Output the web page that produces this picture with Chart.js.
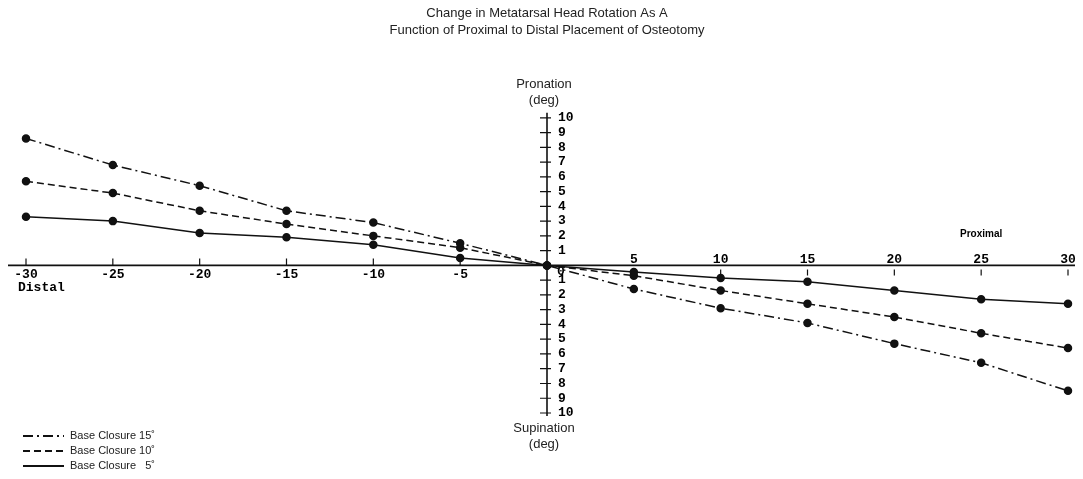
<!DOCTYPE html>
<html>
<head>
<meta charset="utf-8">
<script src="https://cdn.jsdelivr.net/npm/chart.js@4.4.0/dist/chart.umd.min.js"></script>
<style>
    html, body { margin: 0; padding: 0; background: #fff; }
    #wrap { width: 1083px; height: 479px; position: relative; }
</style>
</head>
<body>
<div id="wrap"><canvas id="rotationChart"></canvas></div>
<script>
// --- data ---
const placement = [-30, -25, -20, -15, -10, -5, 0, 5, 10, 15, 20, 25, 30];
const closure15 = [8.6, 6.8, 5.4, 3.7, 2.9, 1.5, 0, -1.6, -2.9, -3.9, -5.3, -6.6, -8.5];
const closure10 = [5.7, 4.9, 3.7, 2.8, 2.0, 1.2, 0, -0.7, -1.7, -2.6, -3.5, -4.6, -5.6];
const closure5  = [3.3, 3.0, 2.2, 1.9, 1.4, 0.5, 0, -0.45, -0.85, -1.1, -1.7, -2.3, -2.6];
const xTickValues = [-30, -25, -20, -15, -10, -5, 5, 10, 15, 20, 25, 30];
const yTickValues = [-10, -9, -8, -7, -6, -5, -4, -3, -2, -1, 1, 2, 3, 4, 5, 6, 7, 8, 9, 10];
const seriesNames = ['Base Closure 15˚', 'Base Closure 10˚', 'Base Closure   5˚'];

const INK = '#111';
const TXT = '#222';
const dashes = [[10, 4, 2, 4], [7, 4], []];

const toPoints = vals => placement.map((x, i) => ({ x: x, y: vals[i] }));

// crossed axes, ticks, labels and the hand-made legend
const crossAxes = {
    id: 'crossAxes',
    beforeDatasetsDraw(chart) {
        const { ctx, chartArea: a, scales: { x, y } } = chart;
        const ax = x.getPixelForValue(0);
        const ay = y.getPixelForValue(0);
        ctx.save();
        ctx.strokeStyle = INK;
        ctx.lineWidth = 1.6;
        ctx.beginPath();
        ctx.moveTo(a.left - 18, ay); ctx.lineTo(a.right + 7, ay);
        ctx.moveTo(ax, a.top - 5); ctx.lineTo(ax, a.bottom + 3);
        ctx.stroke();

        ctx.lineWidth = 1.2;
        ctx.beginPath();
        xTickValues.forEach(v => {
            const px = x.getPixelForValue(v);
            if (v < 0) { ctx.moveTo(px, ay - 7); ctx.lineTo(px, ay); }
            else { ctx.moveTo(px, ay + 4); ctx.lineTo(px, ay + 10); }
        });
        yTickValues.forEach(v => {
            const py = y.getPixelForValue(v);
            ctx.moveTo(ax - 7, py); ctx.lineTo(ax + 4, py);
        });
        ctx.stroke();

        ctx.fillStyle = '#000';
        ctx.font = 'bold 13px "Liberation Mono", "DejaVu Sans Mono", monospace';
        ctx.textAlign = 'center';
        ctx.textBaseline = 'middle';
        xTickValues.forEach(v => {
            const px = x.getPixelForValue(v);
            ctx.fillText(String(v), px, v < 0 ? ay + 9 : ay - 6);
        });
        ctx.textAlign = 'left';
        yTickValues.forEach(v => {
            ctx.fillText(String(Math.abs(v)), ax + 11, y.getPixelForValue(v));
        });
        ctx.fillText('0', ax + 10, ay + 6);
        ctx.fillText('Distal', x.getPixelForValue(-30) - 8, ay + 22);

        ctx.font = 'bold 10px "Liberation Sans", Arial, sans-serif';
        ctx.textAlign = 'center';
        ctx.fillText('Proximal', x.getPixelForValue(25), ay - 31);

        ctx.fillStyle = TXT;
        ctx.font = '13px "Liberation Sans", Arial, sans-serif';
        ctx.fillText('Pronation', ax - 3, a.top - 33);
        ctx.fillText('(deg)', ax - 3, a.top - 17);
        ctx.fillText('Supination', ax - 3, a.bottom + 15);
        ctx.fillText('(deg)', ax - 3, a.bottom + 31);

        // legend
        ctx.font = '11px "Liberation Sans", Arial, sans-serif';
        ctx.textAlign = 'left';
        seriesNames.forEach((name, i) => {
            const ly = 436 + i * 15;
            ctx.setLineDash(dashes[i]);
            ctx.lineWidth = 1.8;
            ctx.strokeStyle = INK;
            ctx.beginPath();
            ctx.moveTo(23, ly); ctx.lineTo(64, ly);
            ctx.stroke();
            ctx.fillText(name, 70, ly);
        });
        ctx.restore();
    }
};

const mkSet = (label, vals, dash) => ({
    label: label,
    data: toPoints(vals),
    showLine: true,
    borderColor: INK,
    backgroundColor: INK,
    borderWidth: 1.5,
    borderDash: dash,
    pointRadius: 3.5,
    pointBackgroundColor: INK,
    pointBorderColor: INK,
    tension: 0,
    clip: false
});

new Chart(document.getElementById('rotationChart'), {
    type: 'scatter',
    data: {
        datasets: [
            mkSet(seriesNames[0], closure15, dashes[0]),
            mkSet(seriesNames[1], closure10, dashes[1]),
            mkSet(seriesNames[2], closure5, dashes[2])
        ]
    },
    options: {
        responsive: true,
        maintainAspectRatio: false,
        animation: false,
        layout: { padding: { left: 26, right: 15, top: 0, bottom: 66 } },
        plugins: {
            legend: { display: false },
            tooltip: { enabled: false },
            title: {
                display: true,
                text: ['Change in Metatarsal Head Rotation As A', 'Function of Proximal to Distal Placement of Osteotomy'],
                color: TXT,
                font: { family: '"Liberation Sans", Arial, sans-serif', size: 13, weight: 'normal', lineHeight: 1.3 },
                padding: { top: 5, bottom: 79 }
            }
        },
        scales: {
            x: { type: 'linear', min: -30, max: 30, display: false },
            y: { type: 'linear', min: -10, max: 10, display: false }
        }
    },
    plugins: [crossAxes]
});
</script>
</body>
</html>
